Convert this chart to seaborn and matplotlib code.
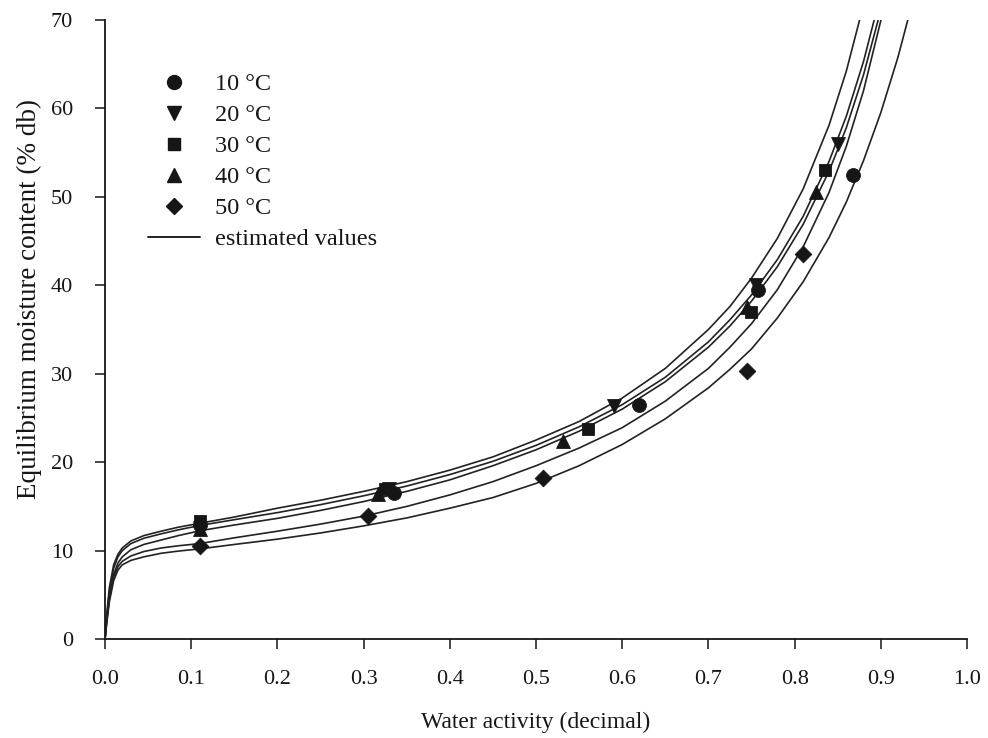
import pandas as pd
import seaborn as sns
import matplotlib.pyplot as plt
from matplotlib.lines import Line2D

temps = ["10 °C", "20 °C", "30 °C", "40 °C", "50 °C"]
markers = ["o", "v", "s", "^", "D"]
marker_sizes = [10, 10, 9, 10, 8.5]

aw_10 = [0.11, 0.335, 0.62, 0.757, 0.868]
emc_10 = [12.9, 16.5, 26.5, 39.5, 52.5]
aw_20 = [0.11, 0.33, 0.59, 0.755, 0.85]
emc_20 = [12.6, 17.0, 26.3, 40.0, 56.0]
aw_30 = [0.11, 0.325, 0.56, 0.75, 0.835]
emc_30 = [13.4, 17.0, 23.8, 37.0, 53.0]
aw_40 = [0.11, 0.317, 0.531, 0.745, 0.825]
emc_40 = [12.5, 16.4, 22.4, 37.5, 50.5]
aw_50 = [0.11, 0.305, 0.508, 0.745, 0.81]
emc_50 = [10.5, 13.9, 18.2, 30.3, 43.5]

# estimated (fitted) curves
aw_fit = [0, 0.002, 0.005, 0.01, 0.015, 0.02, 0.03, 0.045, 0.065, 0.085, 0.11,
          0.15, 0.2, 0.25, 0.3, 0.35, 0.4, 0.45, 0.5, 0.55, 0.6, 0.65, 0.7,
          0.725, 0.75, 0.78, 0.81, 0.84, 0.86, 0.88, 0.9, 0.92, 0.94]
fit_10 = [0, 2.0, 4.5, 7.0, 8.2, 8.8, 9.4, 9.9, 10.3, 10.55, 10.8,
          11.45, 12.2, 13.0, 13.9, 15.0, 16.3, 17.8, 19.6, 21.6, 23.9, 26.9, 30.6,
          33.0, 35.65, 39.5, 44.35, 50.5, 55.7, 62.0, 69.9, 80.2, 94.0]
fit_20 = [0, 2.2, 4.8, 7.3, 8.6, 9.3, 10.1, 10.7, 11.2, 11.7, 12.25,
          12.9, 13.65, 14.55, 15.55, 16.7, 18.0, 19.6, 21.4, 23.5, 26.0, 29.1, 33.0,
          35.4, 38.2, 42.1, 46.9, 52.9, 57.8, 63.8, 71.1, 80.2, 92.0]
fit_30 = [0, 2.5, 5.4, 8.0, 9.3, 10.0, 10.8, 11.4, 11.9, 12.35, 12.85,
          13.5, 14.3, 15.2, 16.2, 17.3, 18.6, 20.1, 21.9, 24.0, 26.5, 29.6, 33.6,
          36.1, 38.9, 42.9, 47.8, 54.0, 59.1, 65.3, 72.9, 82.5, 95.0]
fit_40 = [0, 2.8, 5.8, 8.4, 9.6, 10.3, 11.1, 11.7, 12.2, 12.65, 13.1,
          13.8, 14.8, 15.7, 16.7, 17.8, 19.1, 20.6, 22.5, 24.6, 27.25, 30.6, 35.0,
          37.6, 40.8, 45.3, 50.9, 58.1, 64.2, 71.7, 81.1, 94.0, 111.0]
fit_50 = [0, 1.8, 4.2, 6.6, 7.8, 8.4, 8.9, 9.3, 9.7, 9.95, 10.2,
          10.7, 11.3, 12.0, 12.8, 13.7, 14.8, 16.0, 17.6, 19.6, 22.0, 24.9, 28.4,
          30.5, 32.8, 36.3, 40.4, 45.4, 49.4, 54.1, 59.5, 65.8, 73.2]

x_ticks = [0.0, 0.1, 0.2, 0.3, 0.4, 0.5, 0.6, 0.7, 0.8, 0.9, 1.0]
y_ticks = [0, 10, 20, 30, 40, 50, 60, 70]

measured = [(aw_10, emc_10), (aw_20, emc_20), (aw_30, emc_30), (aw_40, emc_40), (aw_50, emc_50)]
fits = [fit_10, fit_20, fit_30, fit_40, fit_50]

sns.set_style("ticks")
plt.rcParams["font.family"] = ["Liberation Serif", "DejaVu Serif"]

ink = "#161616"

fig, ax = plt.subplots(figsize=(9.88, 7.38), dpi=100)
fig.subplots_adjust(left=0.1063, right=0.9787, bottom=0.134, top=0.973)

for vals in fits:
    sns.lineplot(x=aw_fit, y=vals, ax=ax, color="#222222", linewidth=1.2,
                 estimator=None, sort=False, zorder=2)

for (xs, ys), m, ms in zip(measured, markers, marker_sizes):
    sns.scatterplot(x=xs, y=ys, ax=ax, marker=m, s=ms ** 2, color=ink,
                    edgecolor=ink, linewidth=0.6, zorder=3)

ax.set_xlim(0, 1.0)
ax.set_ylim(0, 70)
ax.set_xticks(x_ticks)
ax.set_xticklabels([f"{t:.1f}" for t in x_ticks])
ax.set_yticks(y_ticks)
ax.tick_params(axis="both", direction="out", length=7, width=1.1, colors=ink,
               labelsize=16)
ax.tick_params(axis="x", pad=15)
ax.tick_params(axis="y", pad=16)
sns.despine(ax=ax)
for side in ["left", "bottom"]:
    ax.spines[side].set_linewidth(1.3)
    ax.spines[side].set_color(ink)

ax.set_xlabel("Water activity (decimal)", fontsize=17, color=ink)
ax.set_ylabel("Equilibrium moisture content (% db)", fontsize=19.5, color=ink)
ax.xaxis.set_label_coords(0.5, -0.117)
ax.yaxis.set_label_coords(-0.073, 0.55)

handles = [Line2D([], [], linestyle="none", marker=m, markersize=ms, color=ink)
           for m, ms in zip(markers, marker_sizes)]
handles.append(Line2D([], [], color="#222222", linewidth=1.4))
labels = temps + ["estimated values"]
ax.legend(handles, labels, loc="upper left", bbox_to_anchor=(0.05, 0.914),
          frameon=False, fontsize=17.5, handlelength=2.15, handletextpad=0.6,
          labelspacing=0.37, borderpad=0, borderaxespad=0, labelcolor=ink)

plt.savefig("out.png", dpi=100)
